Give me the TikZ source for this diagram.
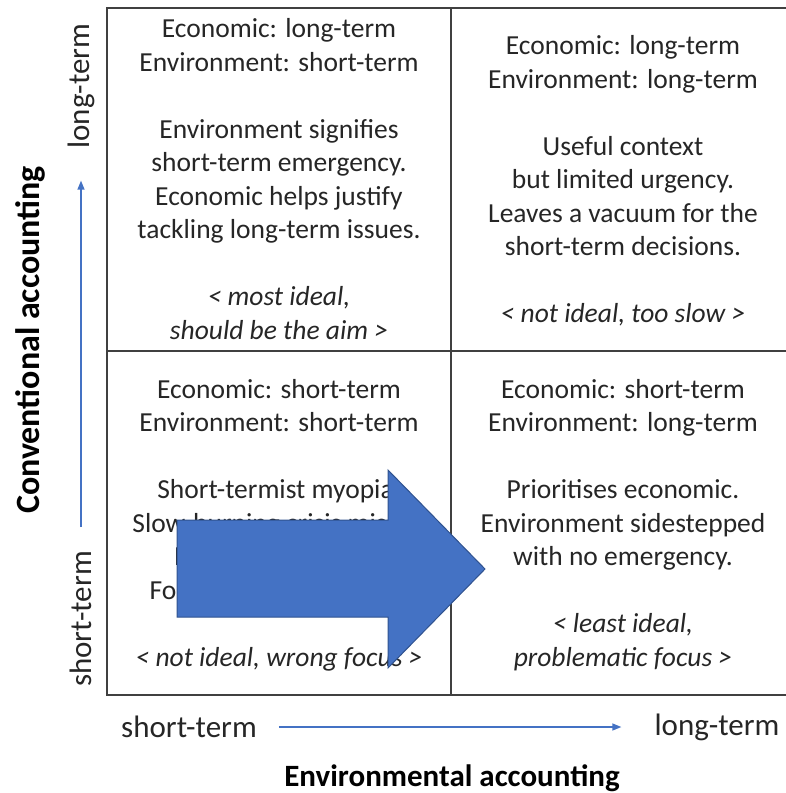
\documentclass[tikz,border=0pt]{standalone}
\usepackage{fontspec}
\setmainfont{Carlito}
\usetikzlibrary{arrows.meta}
\definecolor{arrowblue}{HTML}{4472C4}
\definecolor{arrowedge}{HTML}{2F528F}
\definecolor{inkgray}{HTML}{262626}
\definecolor{gridgray}{HTML}{404040}
\tikzset{
  celltext/.style={align=center, text=inkgray, font=\fontsize{27.5}{33.5}\selectfont},
  axislabel/.style={text=inkgray, inner sep=0pt, font=\fontsize{31}{37}\selectfont},
  axistitle/.style={text=black, font=\bfseries\fontsize{31}{37}\selectfont},
  axisarrow/.style={arrowblue, line width=1.3pt, -{Triangle[length=9pt,width=7pt]}},
  gridline/.style={gridgray, line width=1.8pt},
}
\begin{document}
\begin{tikzpicture}[x=1pt,y=-1pt]
\useasboundingbox (0,0) rectangle (786,793);
\clip (0,0) rectangle (786,793);
% quadrants
\draw[gridline] (107,8) rectangle (795,695);
\draw[gridline] (451,8) -- (451,695);
\draw[gridline] (107,351) -- (795,351);
% cell texts
\node[celltext] (topleft) at (279,179) {Economic: long-term\\Environment: short-term\\[33.5pt]
  Environment signifies\\short-term emergency.\\Economic helps justify\\tackling long-term issues.\\[33.5pt]
  \itshape < most ideal,\\\itshape should be the aim >};
\node[celltext] (topright) at (623,181) {Economic: long-term\\Environment: long-term\\[33.5pt]
  Useful context\\but limited urgency.\\Leaves a vacuum for the\\short-term decisions.\\[33.5pt]
  \itshape < not ideal, too slow >};
\node[celltext] (bottomleft) at (279,525) {Economic: short-term\\Environment: short-term\\[33.5pt]
  Short-termist myopia.\\Slow-burning crisis missed\\Issues left for later.\\Focus on quick returns.\\[33.5pt]
  \itshape < not ideal, wrong focus >};
\node[celltext] (bottomright) at (623,525) {Economic: short-term\\Environment: long-term\\[33.5pt]
  Prioritises economic.\\Environment sidestepped\\with no emergency.\\[33.5pt]
  \itshape < least ideal,\\\itshape problematic focus >};
% big arrow
\filldraw[fill=arrowblue, draw=arrowedge, line width=1pt] (177,520) -- (388,520) -- (388,470)
  -- (485,569) -- (388,668) -- (388,617) -- (177,617) -- cycle;
% vertical axis
\node[axislabel, rotate=90] (yshort) at (81,619) {short-term};
\node[axislabel, rotate=90] (ylong) at (81,86) {long-term};
\node[axistitle, rotate=90, font=\bfseries\fontsize{34}{40}\selectfont] (ytitle) at (30,340) {Conventional accounting};
\draw[axisarrow, shorten <=24pt, shorten >=32pt] (yshort.east) -- (ylong.west);
% horizontal axis
\node[axislabel] (xshort) at (189,727) {short-term};
\node[axislabel] (xlong) at (717,727) {long-term};
\node[axistitle] (xtitle) at (452,778) {Environmental accounting};
\draw[axisarrow, shorten <=22pt, shorten >=33pt] (xshort.east) -- (xlong.west);
\end{tikzpicture}
\end{document}
